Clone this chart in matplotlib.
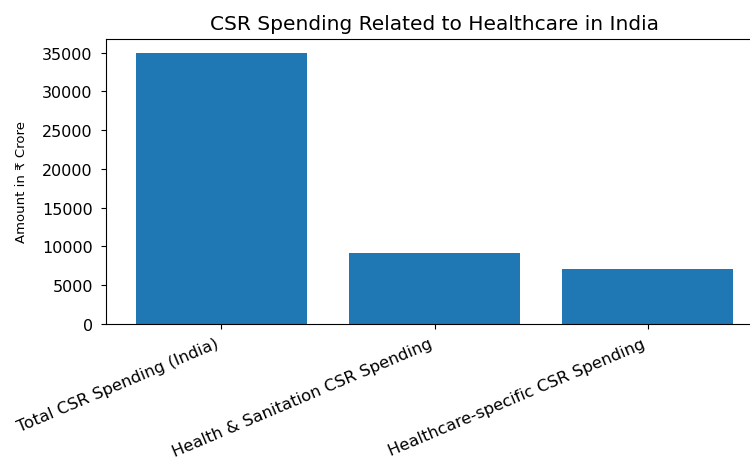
import matplotlib
matplotlib.use('Agg')
import matplotlib.pyplot as plt

# data
categories = ['Total CSR Spending (India)',
              'Health & Sanitation CSR Spending',
              'Healthcare-specific CSR Spending']
amounts = [35000, 9100, 7150]

fig = plt.figure(figsize=(7.5, 4.64), dpi=100)
ax = fig.add_axes([106/750, 1 - 325/464, 657/750, 285/464])

ax.bar(categories, amounts, color='#1f77b4')

ax.set_title('CSR Spending Related to Healthcare in India', fontsize=14.5, pad=7)
ax.set_ylabel('Amount in ₹ Crore', fontsize=9.5)
ax.yaxis.set_label_coords(-0.119, 0.5)
ax.tick_params(axis='y', labelsize=11.5, pad=6)
ax.tick_params(axis='x', labelsize=11.8, pad=5)
plt.setp(ax.get_xticklabels(), rotation=23, ha='right')

fig.savefig('out.png', dpi=100)
